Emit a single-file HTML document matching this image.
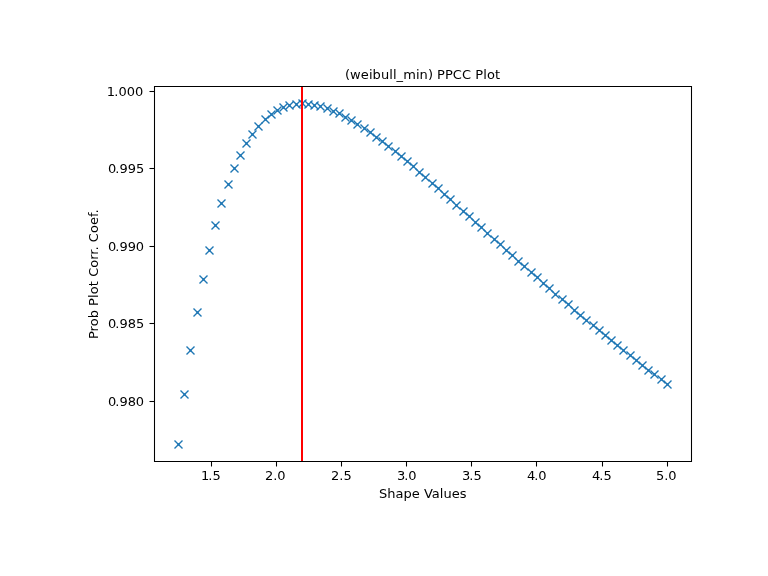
<!DOCTYPE html>
<html lang="en">
<head>
<meta charset="utf-8">
<title>(weibull_min) PPCC Plot</title>
<style>
html,body{margin:0;padding:0;background:#fff;}
body{width:768px;height:576px;overflow:hidden;}
svg{display:block;}
text{font-family:"DejaVu Sans","Liberation Sans",sans-serif;font-size:13px;fill:#000;}
.sp{stroke:#000;stroke-width:1.0667;fill:none;}
.mk{stroke:#1f77b4;stroke-width:1.3333;fill:none;}
</style>
</head>
<body>
<svg width="768" height="576" viewBox="0 0 768 576">
<defs><g id="x"><path d="M-4 -4 L4 4 M-4 4 L4 -4"/><path d="M-1.5 0 H1.5 M0 -1.5 V1.5" stroke-width="0.67"/></g></defs>
<rect x="0" y="0" width="768" height="576" fill="#ffffff"/>
<g class="mk">
<use href="#x" x="178.5" y="444.5"/>
<use href="#x" x="184.5" y="394.5"/>
<use href="#x" x="190.5" y="350.5"/>
<use href="#x" x="197.5" y="312.5"/>
<use href="#x" x="203.5" y="279.5"/>
<use href="#x" x="209.5" y="250.5"/>
<use href="#x" x="215.5" y="225.5"/>
<use href="#x" x="221.5" y="203.5"/>
<use href="#x" x="228.5" y="184.5"/>
<use href="#x" x="234.5" y="168.5"/>
<use href="#x" x="240.5" y="155.5"/>
<use href="#x" x="246.5" y="143.5"/>
<use href="#x" x="252.5" y="134.5"/>
<use href="#x" x="258.5" y="126.5"/>
<use href="#x" x="265.5" y="119.5"/>
<use href="#x" x="271.5" y="114.5"/>
<use href="#x" x="277.5" y="110.5"/>
<use href="#x" x="283.5" y="107.5"/>
<use href="#x" x="289.5" y="105.5"/>
<use href="#x" x="296.5" y="104.5"/>
<use href="#x" x="302.5" y="103.5"/>
<use href="#x" x="308.5" y="104.5"/>
<use href="#x" x="314.5" y="105.5"/>
<use href="#x" x="320.5" y="106.5"/>
<use href="#x" x="327.5" y="108.5"/>
<use href="#x" x="333.5" y="111.5"/>
<use href="#x" x="339.5" y="113.5"/>
<use href="#x" x="345.5" y="117.5"/>
<use href="#x" x="351.5" y="120.5"/>
<use href="#x" x="357.5" y="124.5"/>
<use href="#x" x="364.5" y="128.5"/>
<use href="#x" x="370.5" y="132.5"/>
<use href="#x" x="376.5" y="137.5"/>
<use href="#x" x="382.5" y="141.5"/>
<use href="#x" x="388.5" y="146.5"/>
<use href="#x" x="395.5" y="151.5"/>
<use href="#x" x="401.5" y="156.5"/>
<use href="#x" x="407.5" y="161.5"/>
<use href="#x" x="413.5" y="166.5"/>
<use href="#x" x="419.5" y="172.5"/>
<use href="#x" x="425.5" y="177.5"/>
<use href="#x" x="432.5" y="183.5"/>
<use href="#x" x="438.5" y="188.5"/>
<use href="#x" x="444.5" y="194.5"/>
<use href="#x" x="450.5" y="199.5"/>
<use href="#x" x="456.5" y="205.5"/>
<use href="#x" x="463.5" y="211.5"/>
<use href="#x" x="469.5" y="216.5"/>
<use href="#x" x="475.5" y="222.5"/>
<use href="#x" x="481.5" y="227.5"/>
<use href="#x" x="487.5" y="233.5"/>
<use href="#x" x="494.5" y="239.5"/>
<use href="#x" x="500.5" y="244.5"/>
<use href="#x" x="506.5" y="250.5"/>
<use href="#x" x="512.5" y="255.5"/>
<use href="#x" x="518.5" y="261.5"/>
<use href="#x" x="524.5" y="266.5"/>
<use href="#x" x="531.5" y="272.5"/>
<use href="#x" x="537.5" y="277.5"/>
<use href="#x" x="543.5" y="283.5"/>
<use href="#x" x="549.5" y="288.5"/>
<use href="#x" x="555.5" y="294.5"/>
<use href="#x" x="562.5" y="299.5"/>
<use href="#x" x="568.5" y="304.5"/>
<use href="#x" x="574.5" y="310.5"/>
<use href="#x" x="580.5" y="315.5"/>
<use href="#x" x="586.5" y="320.5"/>
<use href="#x" x="593.5" y="325.5"/>
<use href="#x" x="599.5" y="330.5"/>
<use href="#x" x="605.5" y="335.5"/>
<use href="#x" x="611.5" y="340.5"/>
<use href="#x" x="617.5" y="345.5"/>
<use href="#x" x="623.5" y="350.5"/>
<use href="#x" x="630.5" y="355.5"/>
<use href="#x" x="636.5" y="360.5"/>
<use href="#x" x="642.5" y="365.5"/>
<use href="#x" x="648.5" y="370.5"/>
<use href="#x" x="654.5" y="374.5"/>
<use href="#x" x="661.5" y="379.5"/>
<use href="#x" x="667.5" y="384.5"/>
</g>
<rect x="301" y="87" width="2" height="374.5" fill="#ff0000"/>
<g class="sp">
<path d="M211.5 461.5 V466.5"/>
<path d="M276.5 461.5 V466.5"/>
<path d="M341.5 461.5 V466.5"/>
<path d="M406.5 461.5 V466.5"/>
<path d="M471.5 461.5 V466.5"/>
<path d="M536.5 461.5 V466.5"/>
<path d="M602.5 461.5 V466.5"/>
<path d="M667.5 461.5 V466.5"/>
<path d="M154.5 91.5 H149.5"/>
<path d="M154.5 168.5 H149.5"/>
<path d="M154.5 246.5 H149.5"/>
<path d="M154.5 323.5 H149.5"/>
<path d="M154.5 401.5 H149.5"/>
<path d="M154.5 86.5 H691.5 V461.5 H154.5 Z"/>
</g>
<text x="200.89 208.15 212.48" y="480">1.5</text>
<text x="265.12 273.3 277.37" y="480">2.0</text>
<text x="331.04 339.3 343.43" y="480">2.5</text>
<text x="396.96 404.17 408.3" y="480">3.0</text>
<text x="461.94 469.35 473.4" y="480">3.5</text>
<text x="526.96 534.17 538.3" y="480">4.0</text>
<text x="591.96 599.32 603.57" y="480">4.5</text>
<text x="656.01 664.37 668.3" y="480">5.0</text>
<text x="106.65 114.23 118.43 126.78 135.12" y="95.79">1.000</text>
<text x="107.89 115.26 119.53 127.81 136.08" y="172.7">0.995</text>
<text x="107.88 115.28 119.51 127.86 135.78" y="250.73">0.990</text>
<text x="107.88 115.28 119.51 127.86 136.08" y="327.73">0.985</text>
<text x="107.89 115.28 119.48 127.81 135.72" y="405.77">0.980</text>
<text x="378.91 387.19 395.45 403.45 411.73 419.75 423.92 431.83 439.83 443.47 451.73 459.77" y="497.9">Shape Values</text>
<text x="345.06 350.02 360.86 368.91 372.56 380.88 389.16 392.98 396.48 403.18 415.9 419.41 428 432.81 437 444.89 452.78 461.91 471.03 475.22 483.26 486.92 494.92" y="79.4">(weibull_min) PPCC Plot</text>
<text transform="translate(98 274.05) rotate(-90)" x="-65.02 -57.37 -52.26 -44.26 -35.96 -32.07 -23.88 -20.23 -12.21 -7.07 -2.73 6.24 14.24 19.41 23.6 27.79 31.83 41.1 49.1 57.15 60.54" y="0">Prob Plot Corr. Coef.</text>
</svg>
</body>
</html>
